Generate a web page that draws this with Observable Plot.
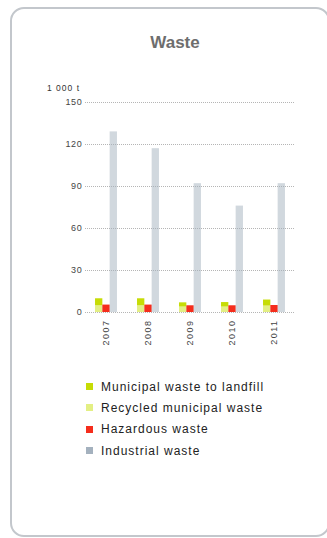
<!DOCTYPE html>
<html>
<head>
<meta charset="utf-8">
<script src="https://cdn.jsdelivr.net/npm/d3@7"></script>
<script src="https://cdn.jsdelivr.net/npm/@observablehq/plot@0.6"></script>
<style>
  html, body { margin: 0; padding: 0; background: #fff; }
  body { width: 327px; height: 538px; position: relative; overflow: hidden; font-family: "Liberation Sans", Arial, sans-serif; }
  #card { position: absolute; left: 10px; top: 7px; width: 320px; height: 530px; border: 2px solid #c3c7cc; border-radius: 14px; box-sizing: border-box; }
  #title { position: absolute; left: 0; width: 350px; top: 33px; text-align: center; font-size: 17px; font-weight: bold; color: #6e6e6e; }
  #unit { position: absolute; left: 47px; top: 83px; font-size: 8.5px; letter-spacing: 1px; color: #333; }
  #chart { position: absolute; left: 0; top: 0; }
  #chart svg text { letter-spacing: 0.7px; }
  #legend { position: absolute; left: 86px; top: 376px; }
  .item { display: flex; align-items: center; height: 21.3px; font-size: 12px; letter-spacing: 1px; color: #222; }
  .sw { width: 7px; height: 7px; margin-right: 8px; flex: none; }
</style>
</head>
<body>
<div id="card"></div>
<div id="title">Waste</div>
<div id="unit">1 000 t</div>
<div id="chart"></div>
<div id="legend"></div>
<script>
// Waste volumes, thousand tonnes
const years = ["2007", "2008", "2009", "2010", "2011"];
const landfill = [5.0, 5.0, 3.0, 3.2, 4.3];
const recycled = [4.8, 4.8, 3.9, 3.9, 4.6];
const hazardous = [5.3, 5.3, 4.8, 4.8, 5.0];
const industrial = [129, 117, 92, 76, 92];

const categories = [
  "Municipal waste to landfill",
  "Recycled municipal waste",
  "Hazardous waste",
  "Industrial waste"
];
const colors = ["#c6dc05", "#e3ef84", "#f52d1c", "#a4b1be"];
const yTicks = [0, 30, 60, 90, 120, 150];

// municipal bars are stacked (recycled at the bottom), the other two stand alone
const rows = years.flatMap((year, i) => [
  {year, bar: "m", cat: categories[1], value: recycled[i]},
  {year, bar: "m", cat: categories[0], value: landfill[i]},
  {year, bar: "h", cat: categories[2], value: hazardous[i]},
  {year, bar: "i", cat: categories[3], value: industrial[i]}
]);

const chart = Plot.plot({
  width: 327,
  height: 350,
  marginTop: 102,
  marginBottom: 38,
  marginLeft: 84,
  marginRight: 31,
  style: {fontSize: "9px", fontFamily: "Liberation Sans, Arial, sans-serif", color: "#444", background: "transparent"},
  fx: {domain: years, padding: 0, label: null, tickRotate: -90, tickSize: 0, tickPadding: 7, axis: "bottom"},
  x: {domain: ["m", "h", "i"], paddingInner: 0, paddingOuter: 1.37, round: false, axis: null},
  y: {domain: [0, 150], ticks: yTicks, tickSize: 0, tickPadding: 3, label: null},
  color: {domain: categories, range: colors},
  marks: [
    Plot.ruleY(yTicks, {stroke: "#b5b5b5", strokeDasharray: "1,1", strokeWidth: 1}),
    Plot.barY(rows, {
      fx: "year",
      x: "bar",
      y: "value",
      fill: "cat",
      fillOpacity: d => d.cat === categories[3] ? 0.5 : 1,
      inset: 0
    })
  ]
});
// wider spacing for the rotated year labels
d3.select(chart).selectAll("[aria-label='fx-axis tick label'] text").style("letter-spacing", "1.5px");
document.getElementById("chart").appendChild(chart);

// legend built from the same categories and colours
const legend = d3.select("#legend");
categories.forEach((c, i) => {
  const item = legend.append("div").attr("class", "item");
  item.append("div").attr("class", "sw").style("background", colors[i]);
  item.append("span").text(c);
});
</script>
</body>
</html>
